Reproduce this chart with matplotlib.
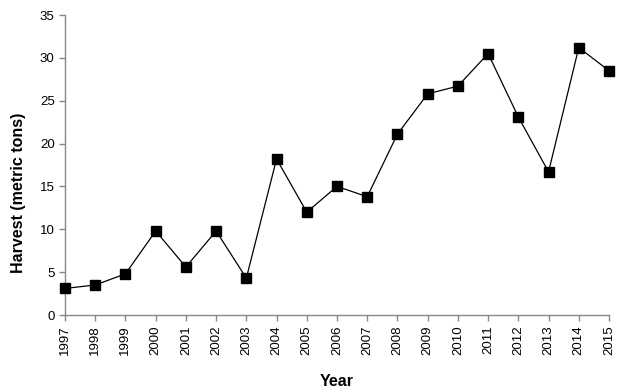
import matplotlib
matplotlib.use('Agg')
import matplotlib.pyplot as plt

YEARS = list(range(1997, 2016))
HARVEST = [3.1, 3.5, 4.8, 9.8, 5.6, 9.8, 4.3, 18.2, 12.0, 15.0,
           13.8, 21.1, 25.8, 26.7, 30.5, 23.1, 16.7, 31.2, 28.5]
YTICKS = [0, 5, 10, 15, 20, 25, 30, 35]

plt.rcParams['font.family'] = ['Liberation Sans', 'DejaVu Sans']

fig = plt.figure(figsize=(6.24, 3.92), dpi=100)
ax = fig.add_axes([65/624, 1 - 315/392, 544/624, 300/392])

ax.plot(YEARS, HARVEST, color='black', lw=0.9, marker='s', ms=7.5,
        mfc='black', mec='black', clip_on=False, zorder=3)

ax.set_xlim(1997, 2015)
ax.set_ylim(0, 35)
ax.set_xticks(YEARS)
ax.set_xticklabels([str(y) for y in YEARS], rotation=90)
ax.set_yticks(YTICKS)

for s in ['top', 'right']:
    ax.spines[s].set_visible(False)
for s in ['left', 'bottom']:
    ax.spines[s].set_color('#888888')
    ax.spines[s].set_linewidth(1)
ax.tick_params(axis='both', colors='#888888', labelcolor='black',
               labelsize=9.5, length=4, width=1)

ax.set_xlabel('Year', fontsize=11.5, fontweight='bold', labelpad=14)
ax.set_ylabel('Harvest (metric tons)', fontsize=11.5, fontweight='bold')
ax.yaxis.set_label_coords(-0.071, 0.407)

fig.savefig('out.png', dpi=100)
